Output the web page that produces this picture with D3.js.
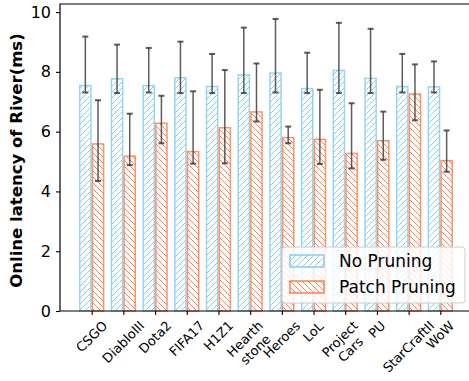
<!DOCTYPE html>
<html>
<head>
<meta charset="utf-8">
<script src="https://cdn.jsdelivr.net/npm/d3@7"></script>
<style>
  body { margin: 0; background: #fff; }
  svg { font-family: "DejaVu Sans", sans-serif; }
</style>
</head>
<body>
<div id="chart"></div>
<script>
var width = 469;
var height = 381;

// game titles ("\n" splits a label into two lines)
var games = ["CSGO", "DiabloIII", "Dota2", "FIFA17", "H1Z1", "Hearth\nstone",
             "Heroes", "LoL", "Project\nCars", "PU", "StarCraftII", "WoW"];

// No Pruning: bar height, lower / upper end of error bar
var noPrune    = [7.54, 7.77, 7.54, 7.80, 7.51, 7.90, 7.96, 7.44, 8.05, 7.78, 7.51, 7.50];
var noPruneLo  = [7.31, 7.29, 7.31, 7.29, 7.29, 7.29, 7.31, 7.29, 7.29, 7.29, 7.31, 7.31];
var noPruneHi  = [9.18, 8.91, 8.80, 9.01, 8.60, 9.48, 9.77, 8.64, 9.64, 9.44, 8.60, 8.35];

// Patch Pruning
var patch      = [5.59, 5.18, 6.28, 5.33, 6.13, 6.66, 5.80, 5.74, 5.27, 5.70, 7.26, 5.03];
var patchLo    = [4.35, 4.88, 5.61, 4.93, 4.94, 6.34, 5.61, 4.92, 4.77, 5.06, 6.38, 4.66];
var patchHi    = [7.05, 6.60, 7.20, 7.35, 8.06, 8.28, 6.17, 7.40, 6.95, 6.67, 8.25, 6.04];

var yTicks = [0, 2, 4, 6, 8, 10];

var series = [
    { name: "No Pruning", vals: noPrune, lo: noPruneLo, hi: noPruneHi,
      color: "#87ceeb", hatch: "fwd", offset: -0.4 },
    { name: "Patch Pruning", vals: patch, lo: patchLo, hi: patchHi,
      color: "#ff7f50", hatch: "back", offset: 0 }
];

////////////////////////////////////////////////////////////////////////////////

var padL = 60, padR = 472, padT = 4, padB = 311;
var barW = 0.4;

var x = d3.scaleLinear().domain([-1, 12]).range([padL, padR]);
var y = d3.scaleLinear().domain([0, 10.27]).range([padB, padT]);

var svg = d3.select("#chart").append("svg")
    .attr("width", width)
    .attr("height", height);

// hatch patterns
var defs = svg.append("defs");
series.forEach(function(s) {
    var p = defs.append("pattern")
        .attr("id", "hatch-" + s.hatch)
        .attr("patternUnits", "userSpaceOnUse")
        .attr("width", 6)
        .attr("height", 6);
    p.append("rect").attr("width", 6).attr("height", 6).attr("fill", "#fff");
    var d = s.hatch == "fwd"
        ? "M-1,1 l2,-2 M0,6 l6,-6 M5,7 l2,-2"
        : "M-1,5 l2,2 M0,0 l6,6 M5,-1 l2,2";
    p.append("path")
        .attr("d", d)
        .attr("stroke", s.color)
        .attr("stroke-width", 1);
});

// bars
series.forEach(function(s) {
    var g = svg.append("g").attr("class", "bars");
    g.selectAll("rect")
        .data(s.vals)
        .enter().append("rect")
        .attr("x", function(d, i) { return x(i + s.offset) + 0.75; })
        .attr("y", function(d) { return y(d); })
        .attr("width", x(barW) - x(0) - 1.5)
        .attr("height", function(d) { return y(0) - y(d); })
        .attr("fill", "url(#hatch-" + s.hatch + ")")
        .attr("stroke", s.color)
        .attr("stroke-opacity", 0.85)
        .attr("stroke-width", 1.5);
});

// error bars
series.forEach(function(s) {
    var g = svg.append("g").attr("class", "errors")
        .attr("stroke", "#333")
        .attr("stroke-opacity", 0.8);
    s.vals.forEach(function(v, i) {
        var cx = x(i + s.offset + barW / 2);
        g.append("line")
            .attr("x1", cx).attr("x2", cx)
            .attr("y1", y(s.lo[i])).attr("y2", y(s.hi[i]))
            .attr("stroke-width", 1.5);
        [s.lo[i], s.hi[i]].forEach(function(e) {
            g.append("line")
                .attr("x1", cx - 3).attr("x2", cx + 3)
                .attr("y1", y(e)).attr("y2", y(e))
                .attr("stroke-width", 2);
        });
    });
});

// spines
svg.append("path")
    .attr("d", "M" + padL + "," + padB + "V" + padT + "H" + padR)
    .attr("fill", "none").attr("stroke", "#000").attr("stroke-width", 1.2);
svg.append("line")
    .attr("x1", padL).attr("x2", padR)
    .attr("y1", padB).attr("y2", padB)
    .attr("stroke", "#000").attr("stroke-width", 1.2);

// y axis
var yAxis = svg.append("g")
    .attr("transform", "translate(" + padL + ",0)")
    .call(d3.axisLeft(y).tickValues(yTicks).tickSize(4).tickPadding(5));
yAxis.select(".domain").remove();
yAxis.selectAll("text").attr("font-size", 16).attr("fill", "#000")
    .attr("font-family", "DejaVu Sans");
yAxis.selectAll("line").attr("stroke-width", 1.1);

// x ticks
var xAxis = svg.append("g")
    .attr("transform", "translate(0," + padB + ")")
    .call(d3.axisBottom(x).tickValues(d3.range(games.length)).tickSize(4).tickFormat(""));
xAxis.select(".domain").remove();
xAxis.selectAll("line").attr("stroke-width", 1.1);

// rotated labels, bbox centred under the tick
games.forEach(function(name, i) {
    var g = svg.append("g");
    var t = g.append("text")
        .attr("font-size", 13)
        .attr("text-anchor", "middle")
        .attr("transform", "rotate(-45)");
    var lines = name.split("\n");
    lines.forEach(function(l, k) {
        t.append("tspan").attr("x", 0).attr("dy", k == 0 ? 0 : "1.15em").text(l);
    });
    var bb = g.node().getBoundingClientRect();
    var cx = bb.left + bb.width / 2, ty = bb.top;
    g.attr("transform", "translate(" + (x(i) - cx) + "," + (padB + 7 - ty) + ")");
});

// y label
svg.append("text")
    .attr("transform", "translate(22," + ((padT + padB) / 2 + 3) + ") rotate(-90)")
    .attr("text-anchor", "middle")
    .attr("font-size", 16.5)
    .attr("font-weight", "bold")
    .text("Online latency of River(ms)");

// legend
var leg = svg.append("g").attr("transform", "translate(282,247)");
leg.append("rect")
    .attr("width", 183).attr("height", 56)
    .attr("rx", 3)
    .attr("fill", "#fff").attr("fill-opacity", 0.8)
    .attr("stroke", "#ccc").attr("stroke-width", 1);
series.forEach(function(s, k) {
    var row = leg.append("g").attr("transform", "translate(8," + (8 + k * 26) + ")");
    row.append("rect")
        .attr("width", 34).attr("height", 12)
        .attr("fill", "url(#hatch-" + s.hatch + ")")
        .attr("stroke", s.color).attr("stroke-width", 1.5);
    row.append("text")
        .attr("x", 49).attr("y", 6).attr("dy", "0.35em")
        .attr("font-size", 17)
        .text(s.name);
});
</script>
</body>
</html>
